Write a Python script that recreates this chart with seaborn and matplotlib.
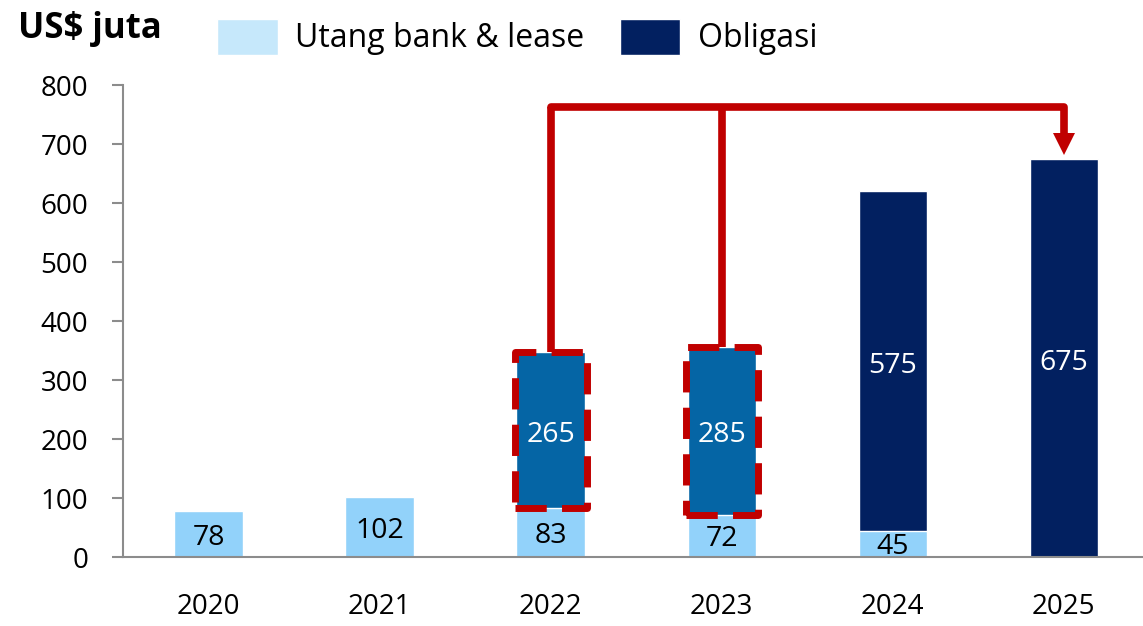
import matplotlib
matplotlib.use('Agg')
import matplotlib.pyplot as plt
import seaborn as sns
import numpy as np
from matplotlib.patches import Rectangle, Patch

# data (US$ juta)
years = ['2020', '2021', '2022', '2023', '2024', '2025']
bank_lease = [78, 102, 83, 72, 45, 0]
obligasi = [0, 0, 265, 285, 575, 675]
refinanced = ['2022', '2023']   # bonds being refinanced into 2025
target_year = '2025'
y_ticks = [0, 100, 200, 300, 400, 500, 600, 700, 800]

light_blue = '#92d2fa'
legend_blue = '#c6e8fb'
navy = '#022060'
mid_blue = '#0565a5'
red = '#c00000'
grey = '#8c8c8c'

sns.set_style('white')
plt.rcParams['font.family'] = ['Open Sans', 'DejaVu Sans']
plt.rcParams['text.color'] = 'black'
plt.rcParams['xtick.labelcolor'] = 'black'
plt.rcParams['ytick.labelcolor'] = 'black'

fig = plt.figure(figsize=(11.43, 6.26), dpi=100)
ax = fig.add_axes([0.1076, 0.110, 0.898, 0.754])

totals = [b + o for b, o in zip(bank_lease, obligasi)]
pal = [mid_blue if y in refinanced else navy for y in years]
bw = 0.4
# total height first, then bank & lease drawn over the bottom part
sns.barplot(x=years, y=totals, hue=years, palette=pal, legend=False,
            width=bw, saturation=1, ax=ax)
sns.barplot(x=years, y=bank_lease, color=light_blue, width=bw,
            saturation=1, ax=ax)

# value labels
for i, (b, o) in enumerate(zip(bank_lease, obligasi)):
    if b > 0:
        ax.text(i, b / 2 - 6, str(b), ha='center', va='center',
                fontsize=20.5, color='black')
    if o > 0:
        ax.text(i, b + o / 2 - 8, str(o), ha='center', va='center',
                fontsize=20.5, color='white')

# dashed boxes around the refinanced bonds
for y in refinanced:
    i = years.index(y)
    rect = Rectangle((i - bw / 2 - 0.01, bank_lease[i]), bw + 0.02, obligasi[i],
                     fill=False, edgecolor=red, lw=5, ls=(0, (4.5, 2.2)),
                     joinstyle='round', zorder=4)
    ax.add_patch(rect)

# arrows from 2022 / 2023 to 2025
top_line = 763
t = years.index(target_year)
tip = bank_lease[t] + obligasi[t]
for y in refinanced:
    i = years.index(y)
    ax.plot([i, i], [bank_lease[i] + obligasi[i], top_line], color=red,
            lw=5.5, solid_capstyle='butt', zorder=5)
first = years.index(refinanced[0])
ax.plot([first, t, t], [top_line, top_line, tip + 35], color=red, lw=5.5,
        solid_joinstyle='round', zorder=5)
ax.plot([t], [tip + 25], marker='v', markersize=16, color=red,
        markeredgewidth=0, zorder=6)

ax.set_xlim(-0.5, 5.5)
ax.set_ylim(0, 800)
ax.set_yticks(y_ticks)
ax.set_xlabel('')
ax.set_ylabel('')

for s in ['top', 'right']:
    ax.spines[s].set_visible(False)
for s in ['left', 'bottom']:
    ax.spines[s].set_color(grey)
    ax.spines[s].set_linewidth(1.5)

ax.set_xticks(np.arange(-0.5, 6, 1), minor=True)
ax.tick_params(axis='x', which='major', length=0, pad=26, labelsize=20,
               labelcolor='black')
ax.tick_params(axis='x', which='minor', length=8, width=1.5, color=grey,
               direction='out')
ax.tick_params(axis='y', length=8, width=1.5, color=grey, direction='out',
               pad=17, labelsize=20, left=True, labelcolor='black')

fig.text(0.016, 0.982, 'US$ juta', fontsize=25, fontweight='bold',
         va='top', ha='left', color='black')

handles = [Patch(facecolor=legend_blue, label='Utang bank & lease'),
           Patch(facecolor=navy, label='Obligasi')]
fig.legend(handles=handles, loc='upper left', bbox_to_anchor=(0.19, 0.97),
           ncol=2, frameon=False, fontsize=23, handlelength=1.9,
           handleheight=1.35, handletextpad=0.55, columnspacing=1.1,
           borderpad=0, borderaxespad=0, labelcolor='black')

fig.savefig('out.png', dpi=100)
